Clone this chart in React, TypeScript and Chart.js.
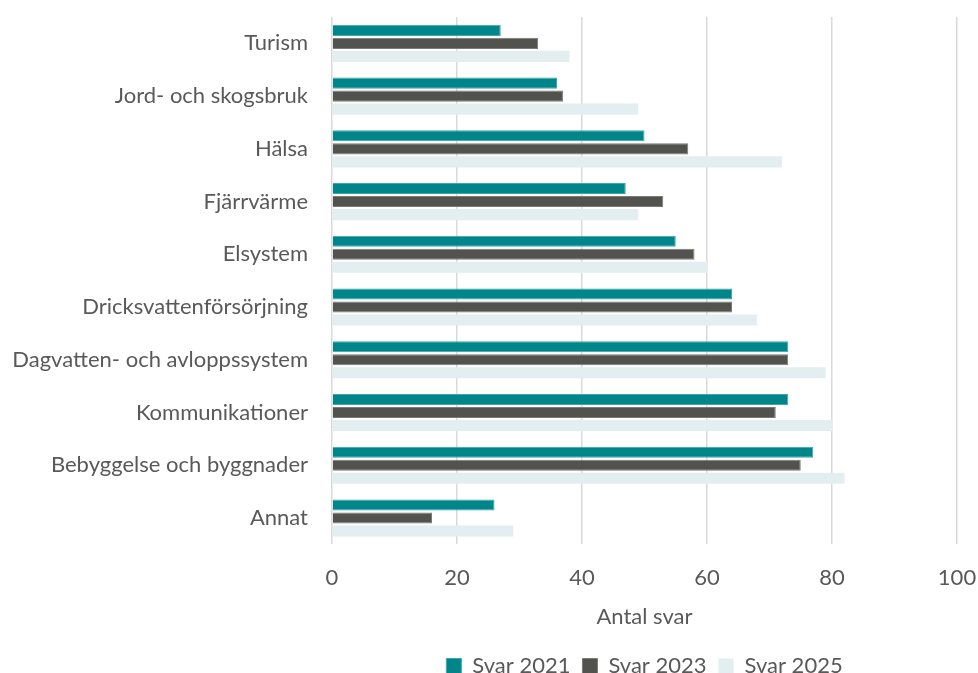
import React, { useEffect, useRef } from "react";
import { Chart, registerables } from "chart.js";

Chart.register(...registerables);

const categories = [
  "Turism",
  "Jord- och skogsbruk",
  "Hälsa",
  "Fjärrvärme",
  "Elsystem",
  "Dricksvattenförsörjning",
  "Dagvatten- och avloppssystem",
  "Kommunikationer",
  "Bebyggelse och byggnader",
  "Annat",
];
const svar2021 = [27, 36, 50, 47, 55, 64, 73, 73, 77, 26];
const svar2023 = [33, 37, 57, 53, 58, 64, 73, 71, 75, 16];
const svar2025 = [38, 49, 72, 49, 60, 68, 79, 80, 82, 29];
const xTicks = [0, 20, 40, 60, 80, 100];

const FONT = "Lato, 'Open Sans', sans-serif";
const TEXT = "#595959";

const legendToPlotCenter = {
  id: "legendToPlotCenter",
  afterLayout(chart: any) {
    const lg = chart.legend;
    if (!lg) return;
    lg.left = chart.chartArea.left;
    lg.right = chart.chartArea.right;
    lg.width = lg.right - lg.left;
  },
};

export default function App() {
  const ref = useRef<HTMLCanvasElement | null>(null);
  useEffect(() => {
    if (!ref.current) return;
    const chart = new Chart(ref.current, {
      type: "bar",
      data: {
        labels: categories,
        datasets: [
          { label: "Svar 2021", data: svar2021, backgroundColor: "#00858A", borderColor: "#3fa6aa", borderWidth: 1 },
          { label: "Svar 2023", data: svar2023, backgroundColor: "#52524E", borderColor: "#7a7a76", borderWidth: 1 },
          { label: "Svar 2025", data: svar2025, backgroundColor: "#E2EEF0", borderColor: "#E2EEF0", borderWidth: 0 },
        ],
      },
      plugins: [legendToPlotCenter],
      options: {
        indexAxis: "y",
        animation: false,
        responsive: true,
        maintainAspectRatio: false,
        datasets: { bar: { categoryPercentage: 0.74, barPercentage: 0.85 } },
        layout: { padding: { top: 17, right: 0, left: 0, bottom: -14 } },
        scales: {
          x: {
            min: 0,
            max: 100,
            afterBuildTicks: (axis: any) => {
              axis.ticks = xTicks.map((v) => ({ value: v }));
            },
            afterFit: (axis: any) => {
              axis.height = 98.6;
              axis.paddingRight = 21;
              axis.paddingLeft = 0;
            },
            grid: { color: "#D9D9D9", lineWidth: 1.5, drawTicks: false },
            border: { display: false },
            ticks: { color: TEXT, font: { family: FONT, size: 22 }, padding: 20 },
            title: { display: true, text: "Antal svar", color: TEXT, font: { family: FONT, size: 22 }, padding: { top: 0, bottom: 13 } },
          },
          y: {
            afterFit: (axis: any) => {
              axis.width = 332;
              axis.paddingTop = 0;
              axis.paddingBottom = 0;
            },
            grid: { display: false, drawTicks: false },
            border: { display: false },
            ticks: { color: TEXT, font: { family: FONT, size: 22 }, padding: 24 },
          },
        },
        plugins: {
          legend: {
            position: "bottom",
            align: "center",
            labels: { color: TEXT, font: { family: FONT, size: 22 }, boxWidth: 15, boxHeight: 15, padding: 12 },
          },
          tooltip: { enabled: false },
        },
      },
    });
    return () => chart.destroy();
  }, []);
  return (
    <div style={{ position: "absolute", left: 0, top: 0, width: 978, height: 673, background: "#fff" }}>
      <canvas ref={ref} />
    </div>
  );
}
